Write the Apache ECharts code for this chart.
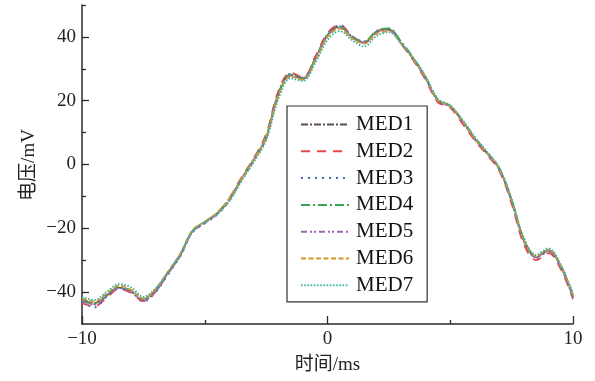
<!DOCTYPE html>
<html><head><meta charset="utf-8">
<script src="https://cdn.jsdelivr.net/npm/echarts@6/dist/echarts.min.js"></script>
<style>html,body{margin:0;padding:0;background:#fff}#c{width:595px;height:381px}</style>
</head><body><div id="c"></div>
<script>
var times = [-10,-9.5,-9,-8.5,-8,-7.5,-7,-6.5,-6,-5.5,-5,-4.5,-4,-3.5,-3,-2.5,-2,-1.5,-1,-0.5,0,0.5,1,1.5,2,2.5,3,3.5,4,4.5,5,5.5,6,6.5,7,7.5,8,8.5,9,9.5,10];
var med1 = [-42.2,-43.5,-41.0,-38.6,-39.8,-42.5,-39.5,-34.0,-28.5,-21.0,-18.2,-15.5,-11.0,-4.5,1.5,8.5,22.0,28.0,27.0,33.0,40.5,43.3,40.0,38.3,41.5,42.3,38.0,33.0,27.0,20.0,18.2,13.5,8.0,3.5,-1.5,-11.5,-24.0,-29.0,-27.0,-32.0,-41.5];
var med2 = [-43.5,-44.5,-41.8,-39.0,-40.2,-42.8,-39.8,-34.2,-28.3,-20.8,-18.0,-15.2,-10.6,-4.0,2.0,9.5,23.0,28.8,27.3,33.8,41.2,43.8,40.3,38.2,41.8,42.5,37.8,32.6,26.5,19.5,17.8,12.8,7.5,3.0,-2.0,-12.3,-25.0,-30.0,-27.8,-32.8,-42.2];
var med3 = [-43.0,-44.8,-41.5,-38.8,-39.9,-43.0,-40.0,-34.5,-28.8,-21.3,-18.5,-15.8,-11.3,-4.8,1.2,8.2,22.2,28.4,27.2,33.2,40.8,43.6,40.2,38.5,41.7,42.6,38.3,33.2,27.2,20.2,18.3,13.7,8.3,3.7,-1.3,-11.2,-23.5,-29.3,-27.3,-32.2,-41.8];
var med4 = [-42.5,-43.8,-41.2,-38.4,-39.6,-42.2,-39.2,-33.8,-28.2,-20.8,-18.0,-15.3,-10.8,-4.3,1.8,8.8,22.3,28.2,27.0,33.3,40.6,43.2,40.0,38.6,41.9,42.7,38.5,33.4,27.4,20.3,18.4,13.8,8.4,3.8,-1.2,-11.0,-23.4,-28.8,-26.8,-31.7,-41.2];
var med5 = [-42.8,-44.0,-41.3,-38.7,-39.9,-42.7,-39.8,-34.3,-28.7,-21.2,-18.4,-15.6,-11.2,-4.6,1.4,8.4,21.8,27.8,26.8,32.8,40.3,43.0,39.8,38.1,41.3,42.1,37.9,33.0,27.0,20.0,18.1,13.4,7.9,3.4,-1.6,-11.6,-24.0,-29.1,-27.1,-32.1,-41.6];
var med6 = [-42.0,-43.0,-40.5,-38.0,-39.3,-42.0,-39.0,-33.6,-28.0,-20.6,-17.9,-15.2,-10.7,-4.4,1.6,8.6,21.7,27.6,26.6,32.5,40.0,42.6,39.6,37.9,41.0,41.8,37.9,33.1,27.1,20.1,18.2,13.6,8.1,3.6,-1.4,-11.3,-23.7,-28.7,-26.7,-31.7,-41.0];
var med7 = [-41.5,-42.5,-40.0,-37.5,-38.5,-41.5,-38.8,-33.8,-28.2,-21.0,-18.0,-15.6,-11.5,-5.2,0.8,7.5,20.5,27.0,26.2,31.8,39.0,41.8,39.0,37.0,40.3,41.5,38.0,33.4,27.6,20.6,18.5,14.0,8.6,4.0,-1.0,-10.8,-23.0,-28.3,-26.3,-31.3,-40.5];
var seriesNames = ['MED1','MED2','MED3','MED4','MED5','MED6','MED7'];
var seriesData = [med1,med2,med3,med4,med5,med6,med7];
var yTickLabels = [-40,-20,0,20,40];
var yMinorTicks = [-30,-10,10,30,50];
var xTickLabels = [-10,0,10];
var xMinorTicks = [-5,5];
var yAxisTitle = '电压/mV';
var xAxisTitle = '时间/ms';

var colors = ['#5b4f4b','#e8464b','#4a68b5','#35a556','#9b68b5','#d4952b','#3bb5a5'];
var dashes = [[7,2,2,2],[9,7],[2,5],[9,3,2,3],[6,3,2,2,2,3],[5,2.5],[1.6,1.6]];
var serif = '"Liberation Serif","Noto Sans CJK SC",serif';
var axisColor = '#2a2a2a';

function fmt(v){ return v < 0 ? '\u2212' + Math.abs(v) : String(v); }

var series = seriesNames.map(function(n,i){
  return {
    name: n, type: 'line', symbol: 'none', showSymbol: false, smooth: 0.35,
    data: times.map(function(t,j){ return [t, seriesData[i][j]]; }),
    lineStyle: {color: colors[i], width: 1.8, type: dashes[i]},
    itemStyle: {color: colors[i]},
    z: 2 + i
  };
});

var chart = echarts.init(document.getElementById('c'), null, {renderer:'canvas'});
chart.setOption({
  animation: false,
  backgroundColor: '#fff',
  grid: {left: 82, right: 22, top: 5, bottom: 57, containLabel: false},
  legend: {
    orient: 'vertical', left: 287, top: 106,
    padding: [8, 14, 6, 13],
    borderColor: '#333', borderWidth: 1.2,
    itemWidth: 48, itemHeight: 14, itemGap: 5.8,
    itemStyle: {opacity: 0},
    textStyle: {fontFamily: serif, fontSize: 21, color: '#111', lineHeight: 20, padding: [0,0,0,2]},
    data: seriesNames
  },
  graphic: [{
    type: 'text', x: 29, y: 165, rotation: Math.PI / 2, silent: true,
    style: {text: yAxisTitle, x: 0, y: 0, align: 'center', verticalAlign: 'middle',
            font: '19px ' + serif, fill: '#222'}
  }],
  xAxis: [{
    type: 'value', min: -10, max: 10, interval: 5,
    name: xAxisTitle, nameLocation: 'middle', nameGap: 32,
    nameTextStyle: {fontFamily: serif, fontSize: 19, color: '#222'},
    axisLine: {show: true, onZero: false, lineStyle: {color: axisColor, width: 1.5}},
    axisTick: {show: true, inside: true, length: 8, customValues: xTickLabels, lineStyle: {color: axisColor, width: 1.3}},
    axisLabel: {customValues: xTickLabels, formatter: fmt, fontFamily: serif, fontSize: 19, color: '#222', margin: 6},
    splitLine: {show: false}
  },{
    type: 'value', min: -10, max: 10, interval: 5, position: 'bottom',
    axisLine: {show: false, onZero: false},
    axisTick: {show: true, inside: true, length: 4, customValues: xMinorTicks, lineStyle: {color: axisColor, width: 1.3}},
    axisLabel: {show: false}, splitLine: {show: false}
  }],
  yAxis: [{
    type: 'value', min: -50, max: 50, interval: 10,
    axisLine: {show: true, onZero: false, lineStyle: {color: axisColor, width: 1.5}},
    axisTick: {show: true, inside: true, length: 7, customValues: yTickLabels, lineStyle: {color: axisColor, width: 1.3}},
    axisLabel: {customValues: yTickLabels, formatter: fmt, fontFamily: serif, fontSize: 19, color: '#222', margin: 6},
    splitLine: {show: false}
  },{
    type: 'value', min: -50, max: 50, interval: 10, position: 'left',
    axisLine: {show: false, onZero: false},
    axisTick: {show: true, inside: true, length: 4, customValues: yMinorTicks, lineStyle: {color: axisColor, width: 1.3}},
    axisLabel: {show: false}, splitLine: {show: false}
  }],
  series: series
});
</script></body></html>
